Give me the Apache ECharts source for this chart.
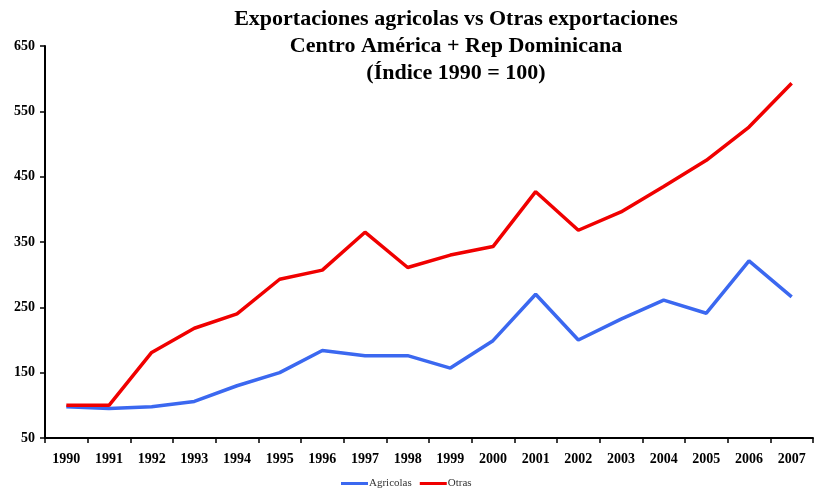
<!DOCTYPE html>
<html>
<head>
<meta charset="utf-8">
<script src="https://cdn.jsdelivr.net/npm/echarts@6/dist/echarts.min.js"></script>
<style>
html, body { margin: 0; padding: 0; background: #fff; }
#chart { width: 817px; height: 495px; }
</style>
</head>
<body>
<div id="chart"></div>
<script>
var years = ['1990', '1991', '1992', '1993', '1994', '1995', '1996', '1997', '1998',
	'1999', '2000', '2001', '2002', '2003', '2004', '2005', '2006', '2007'];
var agricolas = [98, 95, 98, 106, 130, 150, 184, 176, 176, 157, 199, 270, 200, 232, 261, 241, 321, 266];
var otras = [100, 100, 181, 218, 240, 293, 307, 365, 311, 330, 343, 427, 368, 396, 435, 475, 526, 593];
var yTicks = [50, 150, 250, 350, 450, 550, 650];

var chart = echarts.init(document.getElementById('chart'));

var option = {
	backgroundColor: '#fff',
	animation: false,
	title: {
		text: 'Exportaciones agricolas vs Otras exportaciones\nCentro América + Rep Dominicana\n(Índice 1990 = 100)',
		left: 451,
		top: 1,
		textAlign: 'center',
		textStyle: {
			fontFamily: 'Liberation Serif',
			fontWeight: 'bold',
			fontSize: 22,
			lineHeight: 27,
			color: '#000'
		}
	},
	legend: {
		bottom: 1,
		left: 336,
		itemWidth: 27,
		itemHeight: 3,
		itemGap: 8,
		icon: 'rect',
		textStyle: {
			fontFamily: 'Liberation Serif',
			fontSize: 11,
			color: '#333',
			padding: [0, 0, 0, -4]
		},
		data: ['Agricolas', 'Otras']
	},
	grid: {
		left: 45,
		right: 4,
		top: 46,
		bottom: 57
	},
	xAxis: {
		type: 'category',
		data: years,
		boundaryGap: true,
		axisLine: { lineStyle: { color: '#000', width: 2 } },
		axisTick: { show: true, length: 5, lineStyle: { color: '#000', width: 1.5 } },
		axisLabel: {
			margin: 14,
			fontFamily: 'Liberation Serif',
			fontWeight: 'bold',
			fontSize: 14,
			color: '#000'
		}
	},
	yAxis: {
		type: 'value',
		min: yTicks[0],
		max: yTicks[yTicks.length - 1],
		interval: 100,
		axisLine: { show: true, lineStyle: { color: '#000', width: 2 } },
		axisTick: { show: true, length: 5, lineStyle: { color: '#000', width: 1.5 } },
		splitLine: { show: false },
		axisLabel: {
			margin: 10,
			fontFamily: 'Liberation Serif',
			fontWeight: 'bold',
			fontSize: 14,
			color: '#000'
		}
	},
	series: [{
		name: 'Agricolas',
		type: 'line',
		data: agricolas,
		symbol: 'none',
		color: '#3b68f0',
		lineStyle: { width: 3.5 }
	}, {
		name: 'Otras',
		type: 'line',
		data: otras,
		symbol: 'none',
		color: '#f00000',
		lineStyle: { width: 3.5 }
	}]
};

chart.setOption(option);
</script>
</body>
</html>
